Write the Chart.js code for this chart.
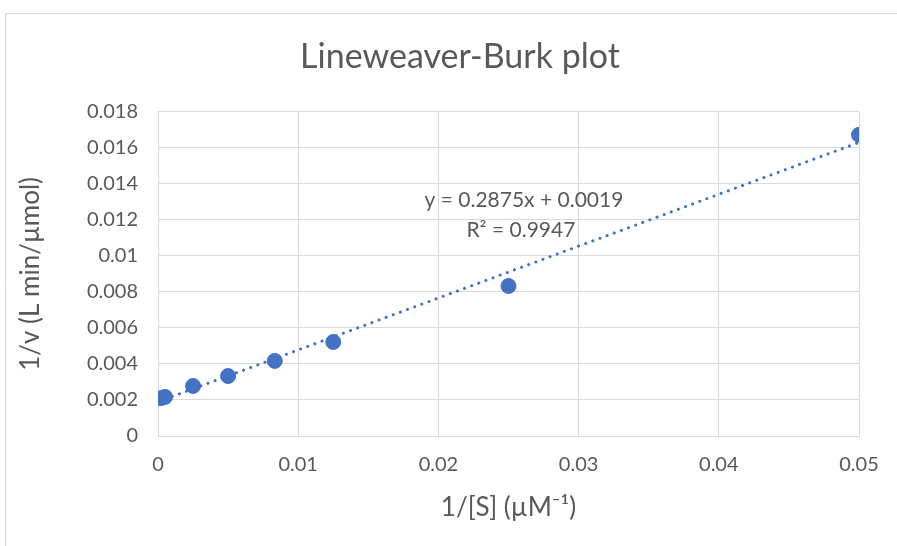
<!DOCTYPE html>
<html>
<head>
<meta charset="utf-8">
<script src="https://cdn.jsdelivr.net/npm/chart.js@4"></script>
<style>
  html, body { margin: 0; padding: 0; background: #fff; }
  #wrap { width: 897px; height: 546px; position: relative; }
</style>
</head>
<body>
<div id="wrap"><canvas id="lbChart"></canvas></div>
<script>
// values
var invS = [0.0002, 0.0005, 0.0025, 0.005, 0.00833, 0.0125, 0.025, 0.05];
var invV = [0.0021, 0.00217, 0.00278, 0.00333, 0.00417, 0.00522, 0.00833, 0.01672];

// dotted linear trendline, end points
var trendX = [0, 0.05];
var trendY = [0.0019, 0.0163];

var trendText = ['y = 0.2875x + 0.0019', 'R\u00B2 = 0.9947'];

var grey = '#595959';
var gridGrey = '#d9d9d9';
var blue = '#4472C4';
var font = 'Lato, "Open Sans", sans-serif';

var scatterPts = invS.map(function(x, i) { return {x: x, y: invV[i]}; });
var trendPts = trendX.map(function(x, i) { return {x: x, y: trendY[i]}; });

// outer chart border (the grey frame excel draws)
var frame = {
    id: 'frame',
    beforeDraw: function(chart) {
        var c = chart.ctx;
        c.save();
        c.strokeStyle = '#d9d9d9';
        c.lineWidth = 1;
        c.beginPath();
        c.moveTo(5.5, 600);
        c.lineTo(5.5, 13.5);
        c.lineTo(900, 13.5);
        c.stroke();
        c.restore();
    }
};

// equation label of the trendline
var trendLabel = {
    id: 'trendLabel',
    afterDatasetsDraw: function(chart) {
        var c = chart.ctx;
        var xs = chart.scales.x, ys = chart.scales.y;
        var px = xs.getPixelForValue(0.0261);
        var py = ys.getPixelForValue(0.0131);
        c.save();
        c.font = '21px ' + font;
        c.fillStyle = grey;
        c.textAlign = 'center';
        c.textBaseline = 'middle';
        c.fillText(trendText[0], px, py);
        c.fillText(trendText[1], px - 3, py + 30);
        c.restore();
    }
};

new Chart(document.getElementById('lbChart'), {
    type: 'scatter',
    data: {
        datasets: [
            {
                label: 'data',
                data: scatterPts,
                backgroundColor: blue,
                borderColor: blue,
                pointRadius: 7.5,
                pointHoverRadius: 7.5
            },
            {
                label: 'trend',
                type: 'line',
                data: trendPts,
                borderColor: blue,
                borderWidth: 3,
                borderDash: [0.1, 7.5],
                borderCapStyle: 'round',
                pointRadius: 0,
                fill: false
            }
        ]
    },
    options: {
        responsive: true,
        maintainAspectRatio: false,
        animation: false,
        // negative right padding so the title centres on the whole frame
        layout: { padding: { left: 0, right: -23, top: 0, bottom: 0 } },
        plugins: {
            legend: { display: false },
            tooltip: { enabled: false },
            title: {
                display: true,
                text: 'Lineweaver-Burk plot',
                color: grey,
                font: { family: font, size: 34, weight: 'normal' },
                padding: { top: 37, bottom: 34 }
            }
        },
        scales: {
            x: {
                type: 'linear',
                min: 0,
                max: 0.05,
                ticks: {
                    stepSize: 0.01,
                    color: grey,
                    font: { family: font, size: 20 },
                    padding: 17,
                    callback: function(v) { return String(Math.round(v * 100) / 100); }
                },
                grid: { color: gridGrey, drawTicks: false },
                border: { color: gridGrey },
                title: {
                    display: true,
                    text: '1/[S] (\u00B5M\u207B\u00B9)',
                    color: grey,
                    font: { family: font, size: 26 },
                    padding: { top: 10, bottom: 23 }
                },
                afterFit: function(s) { s.height = 110; }
            },
            y: {
                type: 'linear',
                min: 0,
                max: 0.018,
                ticks: {
                    stepSize: 0.002,
                    color: grey,
                    font: { family: font, size: 20 },
                    padding: 20,
                    callback: function(v) { return String(Math.round(v * 1000) / 1000); }
                },
                grid: { color: gridGrey, drawTicks: false },
                border: { color: gridGrey },
                title: {
                    display: true,
                    text: '1/v (L min/\u00B5mol)',
                    color: grey,
                    font: { family: font, size: 26 },
                    padding: { top: 15, bottom: 0 }
                },
                afterFit: function(s) { s.width = 158; }
            },
            // empty right-hand axis, only keeps the plot area off the right edge
            yRight: {
                type: 'linear',
                position: 'right',
                min: 0,
                max: 0.018,
                ticks: { display: false },
                grid: { display: false, drawTicks: false },
                border: { display: false },
                afterFit: function(s) { s.width = 61; }
            }
        }
    },
    plugins: [frame, trendLabel]
});
</script>
</body>
</html>
